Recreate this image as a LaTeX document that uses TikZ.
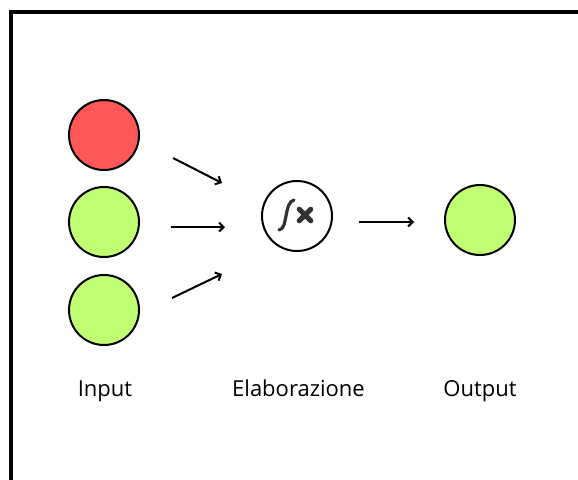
\documentclass[tikz,border=0pt]{standalone}
\usepackage{fontspec}
\setmainfont{Open Sans}
\usetikzlibrary{arrows.meta}
\definecolor{redfill}{HTML}{FF5757}
\definecolor{greenfill}{HTML}{C1FF72}
\definecolor{icongray}{HTML}{333333}
\tikzset{
  neuron/.style={circle, draw=black, line width=2pt, minimum size=70pt, inner sep=0pt},
  arr/.style={line width=2pt, -{Straight Barb[length=4.5pt,width=9pt]}},
  lbl/.style={anchor=base, inner sep=0pt, font=\fontsize{22}{26}\selectfont},
}
\begin{document}
\begin{tikzpicture}[x=1pt,y=-1pt]
\useasboundingbox (0,0) rectangle (578,479);
\fill[white] (0,0) rectangle (578,479);
\begin{scope}
\clip (0,0) rectangle (578,479);
\draw[line width=3.5pt] (11,12) rectangle (620,520);
\end{scope}
% nodes
\node[neuron, fill=redfill]   (in1) at (104,135) {};
\node[neuron, fill=greenfill] (in2) at (104,222) {};
\node[neuron, fill=greenfill] (in3) at (104,310) {};
\node[neuron, fill=white]     (f)   at (297,216) {};
\node[neuron, fill=greenfill] (out) at (480,220) {};
% f(x) icon
\draw[icongray, line width=3.2pt, line cap=round]
  ([shift={(-18,14)}]f.center) .. controls ([shift={(-13,13)}]f.center) and ([shift={(-12.5,7)}]f.center) .. ([shift={(-11,0)}]f.center)
  .. controls ([shift={(-9.5,-8)}]f.center) and ([shift={(-8,-15)}]f.center) .. ([shift={(-3,-16)}]f.center);
\draw[icongray, line width=5pt, line cap=round]
  ([shift={(2.2,-6.8)}]f.center) -- ([shift={(13.8,4.8)}]f.center)
  ([shift={(2.2,4.8)}]f.center) -- ([shift={(13.8,-6.8)}]f.center);
% arrow end points
\coordinate (a1s) at (173,158); \coordinate (a1e) at (222,183);
\coordinate (a2s) at (171,227); \coordinate (a2e) at (225,227);
\coordinate (a3s) at (172,298); \coordinate (a3e) at (222,274);
\coordinate (a4s) at (359,222); \coordinate (a4e) at (414,222);
\draw[arr] (a1s) -- (a1e);
\draw[arr] (a2s) -- (a2e);
\draw[arr] (a3s) -- (a3e);
\draw[arr] (a4s) -- (a4e);
% labels
\node[lbl] (lin)  at (105,396) {Input};
\node[lbl] (lel)  at (298.5,396) {Elaborazione};
\node[lbl] (lout) at (480,396) {Output};
\end{tikzpicture}
\end{document}
